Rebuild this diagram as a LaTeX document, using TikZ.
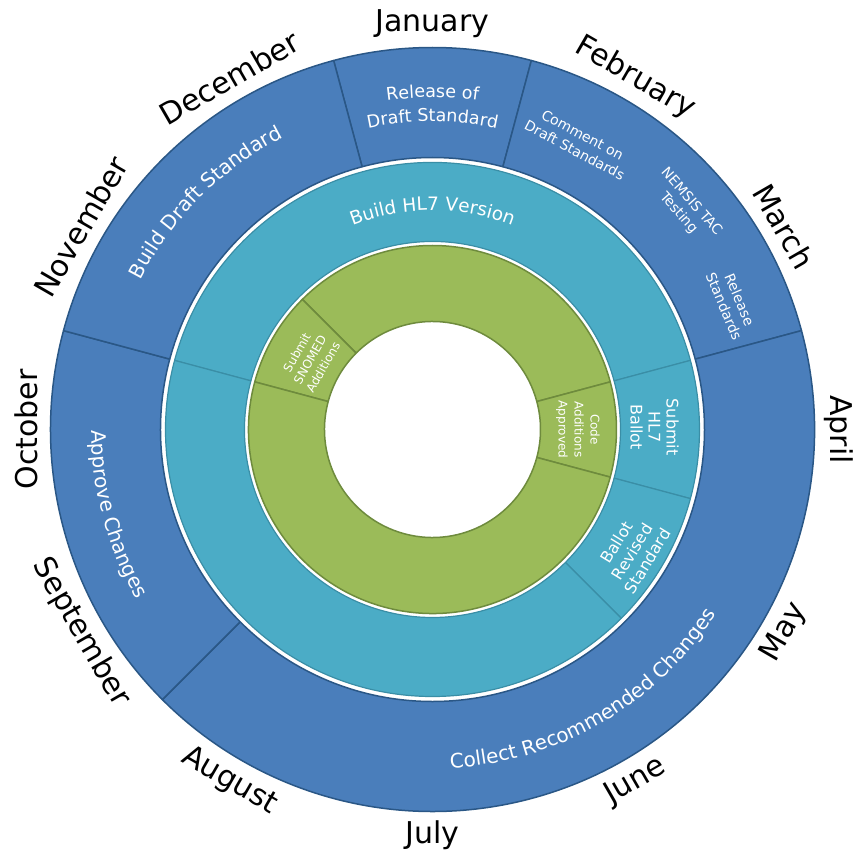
\documentclass[tikz,border=0pt]{standalone}
\usepackage{fontspec}
\setmainfont{DejaVu Sans}
\usetikzlibrary{decorations.text}
\definecolor{bluefill}{HTML}{4A7EBB}
\definecolor{blueline}{HTML}{2A5786}
\definecolor{tealfill}{HTML}{4BACC6}
\definecolor{tealline}{HTML}{3A8EA6}
\definecolor{greenfill}{HTML}{9BBB59}
\definecolor{greenline}{HTML}{6E8B3D}
\newcommand{\ringsector}[5]{\filldraw[#5] (#1:#3pt) arc[start angle=#1, end angle=#2, radius=#3pt] -- (#2:#4pt) arc[start angle=#2, end angle=#1, radius=#4pt] -- cycle;}
\tikzset{
  bluesec/.style={fill=bluefill, draw=blueline, line width=1.5pt, line join=round},
  tealsec/.style={fill=tealfill, draw=tealline, line width=1.2pt, line join=round},
  greensec/.style={fill=greenfill, draw=greenline, line width=1.5pt, line join=round},
  month/.style={font=\fontsize{30}{36}\selectfont, text=black, inner sep=0pt},
  lbl/.style={text=white, align=center, inner sep=0pt},
}
\begin{document}
\begin{tikzpicture}[x=1pt,y=1pt]
\useasboundingbox (-432.5,-427.5) rectangle (422.5,429.5);
% outer (blue) ring
\ringsector{75}{105}{272}{382}{bluesec}
\ringsector{15}{75}{272}{382}{bluesec}
\ringsector{-135}{15}{272}{382}{bluesec}
\ringsector{165}{225}{272}{382}{bluesec}
\ringsector{105}{165}{272}{382}{bluesec}
% middle (teal) ring
\ringsector{15}{165}{188}{267}{tealsec}
\ringsector{-15}{15}{188}{267}{tealsec}
\ringsector{-45}{-15}{188}{267}{tealsec}
\ringsector{165}{315}{188}{267}{tealsec}
% inner (green) ring
\ringsector{15}{135}{108}{184}{greensec}
\ringsector{135}{165}{108}{184}{greensec}
\ringsector{-15}{15}{108}{184}{greensec}
\ringsector{165}{345}{108}{184}{greensec}

% curved labels
\path[decorate, decoration={text along path, text align=center, text color=white,
  text={|\fontsize{17.5}{20}\selectfont|Release of}}]
  (105:332pt) arc[start angle=105, end angle=75, radius=332pt];
\path[decorate, decoration={text along path, text align=center, text color=white,
  text={|\fontsize{17.5}{20}\selectfont|Draft Standard}}]
  (110:308pt) arc[start angle=110, end angle=70, radius=308pt];
\path[decorate, decoration={text along path, text align=center, text color=white,
  text={|\fontsize{20}{24}\selectfont|Build Draft Standard}}]
  (165:328pt) arc[start angle=165, end angle=105, radius=328pt];
\path[decorate, decoration={text along path, text align=center, text color=white,
  text={|\fontsize{20}{24}\selectfont|Approve Changes}}]
  (165:341pt) arc[start angle=165, end angle=225, radius=341pt];
\path[decorate, decoration={text along path, text align=center, text color=white,
  text={|\fontsize{20}{24}\selectfont|Collect Recommended Changes}}]
  (-135:339pt) arc[start angle=-135, end angle=15, radius=339pt];
\path[decorate, decoration={text along path, text align=center, text color=white,
  text={|\fontsize{18.5}{22}\selectfont|Build HL7 Version}}]
  (165:219pt) arc[start angle=165, end angle=15, radius=219pt];

% straight labels
\node[lbl, font=\fontsize{14}{17}\selectfont, rotate=-28] (comment) at (63:322pt) {Comment on\\Draft Standards};
\node[lbl, font=\fontsize{14}{17}\selectfont, rotate=-48.7] (nemsis) at (41.3:336pt) {NEMSIS TAC\\Testing};
\node[lbl, font=\fontsize{14}{17}\selectfont, rotate=-67] (release) at (22.9:325pt) {Release\\Standards};
\node[lbl, font=\fontsize{16}{18}\selectfont, rotate=-90] (hl7ballot) at (0.6:222pt) {Submit\\HL7\\Ballot};
\node[lbl, font=\fontsize{16}{18}\selectfont, rotate=58.5] (revised) at (-31.5:234pt) {Ballot\\Revised\\Standard};
\node[lbl, font=\fontsize{12}{15}\selectfont, rotate=60.4] (snomed) at (150.4:141pt) {Submit\\SNOMED\\Additions};
\node[lbl, font=\fontsize{12}{16}\selectfont, rotate=-90] (code) at (0:145.5pt) {Code\\Additions\\Approved};

% month labels
\node[month, rotate=0]   (jan) at (90:406pt)   {January};
\node[month, rotate=-30] (feb) at (60:406pt)   {February};
\node[month, rotate=-60] (mar) at (30:406pt)   {March};
\node[month, rotate=-90] (apr) at (0:406pt)    {April};
\node[month, rotate=60]  (may) at (-30:406pt)  {May};
\node[month, rotate=30]  (jun) at (-60:406pt)  {June};
\node[month, rotate=0]   (jul) at (-90:406pt)  {July};
\node[month, rotate=-30] (aug) at (-120:406pt) {August};
\node[month, rotate=-60] (sep) at (-150:406pt) {September};
\node[month, rotate=90]  (oct) at (180:406pt)  {October};
\node[month, rotate=60]  (nov) at (150:406pt)  {November};
\node[month, rotate=30]  (dec) at (120:406pt)  {December};
\end{tikzpicture}
\end{document}
